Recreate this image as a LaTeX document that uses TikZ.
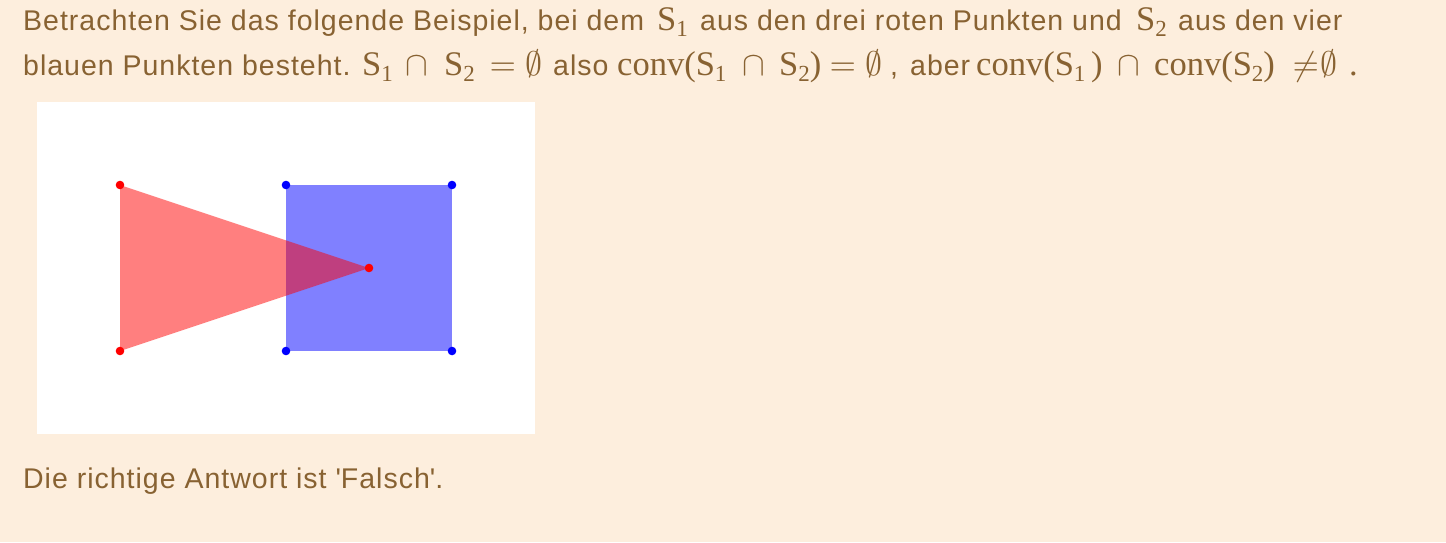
\documentclass[tikz,border=0pt]{standalone}
\usepackage{fontspec}
\newfontfamily\sansf[LetterSpace=3.5]{Liberation Sans}
\newfontfamily\serf{Liberation Serif}
\definecolor{txtc}{RGB}{136,98,50}
\definecolor{bgc}{RGB}{253,238,221}
\newcommand{\mysub}[1]{\raisebox{-6.5pt}{\fontsize{23}{23}\selectfont #1}}
\newcommand{\Sset}[1]{S\mysub{#1}}
\begin{document}
\begin{tikzpicture}[x=1pt,y=-1pt,
  txt/.style={anchor=base west, inner sep=0pt, text=txtc, font=\sansf\fontsize{28.5}{34}\selectfont},
  mth/.style={anchor=base west, inner sep=0pt, text=txtc, font=\serf\fontsize{34.5}{40}\selectfont},
  sym/.style={anchor=base west, inner sep=0pt, text=txtc, font=\fontsize{10}{12}\selectfont, scale=3.4, transform shape},
  rdot/.style={fill=red},
  bdot/.style={fill=blue}]
\fill[bgc] (0,0) rectangle (1446,542);
\useasboundingbox (0,0) rectangle (1446,542);
% panel
\fill[white] (37,102) rectangle (535,434);
\coordinate (b1) at (286,185);
\coordinate (b2) at (452,185);
\coordinate (b3) at (452,351);
\coordinate (b4) at (286,351);
\coordinate (r1) at (120,185);
\coordinate (r2) at (120,351);
\coordinate (r3) at (369,268);
\fill[blue!50] (b1) -- (b2) -- (b3) -- (b4) -- cycle;
\fill[red, opacity=0.5] (r1) -- (r2) -- (r3) -- cycle;
\foreach \p in {r1,r2,r3} \fill[rdot] (\p) circle (4.3);
\foreach \p in {b1,b2,b3,b4} \fill[bdot] (\p) circle (4.3);
% line 1
\node[txt] (n1) at (23,30) {Betrachten Sie das folgende Beispiel, bei dem};
\node[mth] (n2) at (657,30) {\Sset{1}};
\node[txt] (n3) at (700,30) {aus den drei roten Punkten und};
\node[mth] (n4) at (1136,30) {\Sset{2}};
\node[txt] (n5) at (1178,30) {aus den vier};
% line 2
\node[txt] (n6) at (23,75) {blauen Punkten besteht.};
\node[mth] (n7) at (362,75) {\Sset{1}};
\node[sym] (n8) at (405,75) {$\cap$};
\node[mth] (n9) at (444,75) {\Sset{2}};
\node[sym] (n10) at (489,75) {$=$};
\node[sym] (n11) at (525,75) {$\emptyset$};
\node[txt] (n12) at (553,75) {also};
\node[mth] (n13) at (617,75) {conv(\Sset{1}};
\node[sym] (n14) at (742,75) {$\cap$};
\node[mth] (n15) at (779,75) {\Sset{2})};
\node[sym] (n16) at (829,75) {$=$};
\node[sym] (n17) at (865,75) {$\emptyset$};
\node[txt] (n18) at (890,75) {,};
\node[txt] (n19) at (910,75) {aber};
\node[mth] (n20) at (976,75) {conv(\Sset{1}\,)};
\node[sym] (n21) at (1117,75) {$\cap$};
\node[mth] (n22) at (1154,75) {conv(\Sset{2})};
\node[sym] (n23) at (1292,75) {$\neq$};
\node[sym] (n24) at (1320,75) {$\emptyset$};
\node[mth] (n24b) at (1349,75) {.};
% bottom
\node[txt] (n25) at (23,488) {Die richtige Antwort ist \textquotesingle Falsch\textquotesingle.};
\end{tikzpicture}
\end{document}
